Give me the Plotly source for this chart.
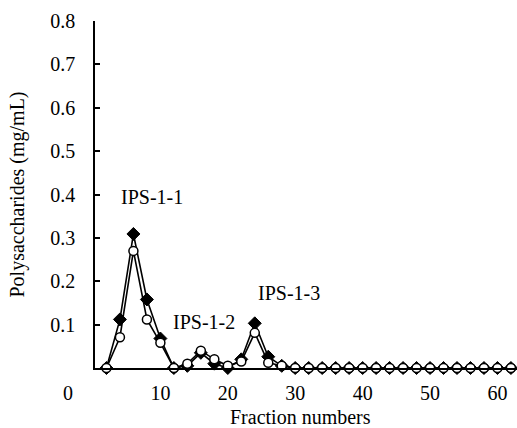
import plotly.graph_objects as go

fractions = list(range(2, 64, 2))
filled_vals = [0, 0.112, 0.309, 0.158, 0.068, 0, 0.005, 0.035, 0.01, 0, 0.02, 0.103, 0.026, 0.005,
               0, 0, 0, 0, 0, 0, 0, 0, 0, 0, 0, 0, 0, 0, 0, 0, 0]
open_vals = [0, 0.071, 0.27, 0.112, 0.058, 0, 0.01, 0.04, 0.02, 0.005, 0.015, 0.081, 0.012, 0.005,
             0, 0, 0, 0, 0, 0, 0, 0, 0, 0, 0, 0, 0, 0, 0, 0, 0]
peak_labels = ["IPS-1-1", "IPS-1-2", "IPS-1-3"]
peak_x = [8.7, 16.5, 29.1]
peak_y = [0.395, 0.107, 0.172]
y_ticks = [0.1, 0.2, 0.3, 0.4, 0.5, 0.6, 0.7, 0.8]
x_ticks = [10, 20, 30, 40, 50, 60]

FONT = "Liberation Serif, Times New Roman, serif"
PLOT_W, PLOT_H = 422, 347

fig = go.Figure()
fig.add_trace(go.Scatter(
    x=fractions, y=filled_vals, mode="lines+markers",
    line=dict(color="black", width=1.6),
    marker=dict(symbol="diamond", size=10, color="black", line=dict(color="black", width=1)),
    cliponaxis=False, showlegend=False))
fig.add_trace(go.Scatter(
    x=fractions, y=open_vals, mode="lines+markers",
    line=dict(color="black", width=1.6),
    marker=dict(symbol="circle", size=9, color="white", line=dict(color="black", width=1.5)),
    cliponaxis=False, showlegend=False))

for t, px, py in zip(peak_labels, peak_x, peak_y):
    fig.add_annotation(x=px, y=py, text=t, showarrow=False,
                       xanchor="center", yanchor="middle",
                       font=dict(family=FONT, size=20, color="black"))

# lone "0" label at lower-left corner
fig.add_annotation(xref="x domain", yref="y domain",
                   x=(68 - 95) / PLOT_W, y=(368 - 393) / PLOT_H,
                   text="0", showarrow=False, xanchor="center", yanchor="middle",
                   font=dict(family=FONT, size=20, color="black"))
# x axis title
fig.add_annotation(xref="x domain", yref="y domain",
                   x=(300 - 95) / PLOT_W, y=(368 - 417) / PLOT_H,
                   text="Fraction numbers", showarrow=False, xanchor="center", yanchor="middle",
                   font=dict(family=FONT, size=20, color="black"))

fig.update_layout(
    width=517, height=428,
    margin=dict(l=95, r=0, t=21, b=60),
    paper_bgcolor="white", plot_bgcolor="white",
    font=dict(family=FONT, size=20, color="black"),
    xaxis=dict(range=[0.3, 62.9], tickvals=x_ticks, ticks="", showgrid=False, zeroline=False,
               showline=True, linecolor="black", linewidth=1.5, ticklabelstandoff=6),
    yaxis=dict(range=[0, 0.8], tickvals=y_ticks, ticktext=[f"{v:.1f}" for v in y_ticks],
               ticks="inside", ticklen=5, tickwidth=1.5, tickcolor="black",
               showgrid=False, zeroline=False, showline=True, linecolor="black", linewidth=1.5,
               ticklabelstandoff=14,
               title=dict(text="Polysaccharides (mg/mL)", font=dict(size=20), standoff=20)),
)

fig.write_html("out.html")
